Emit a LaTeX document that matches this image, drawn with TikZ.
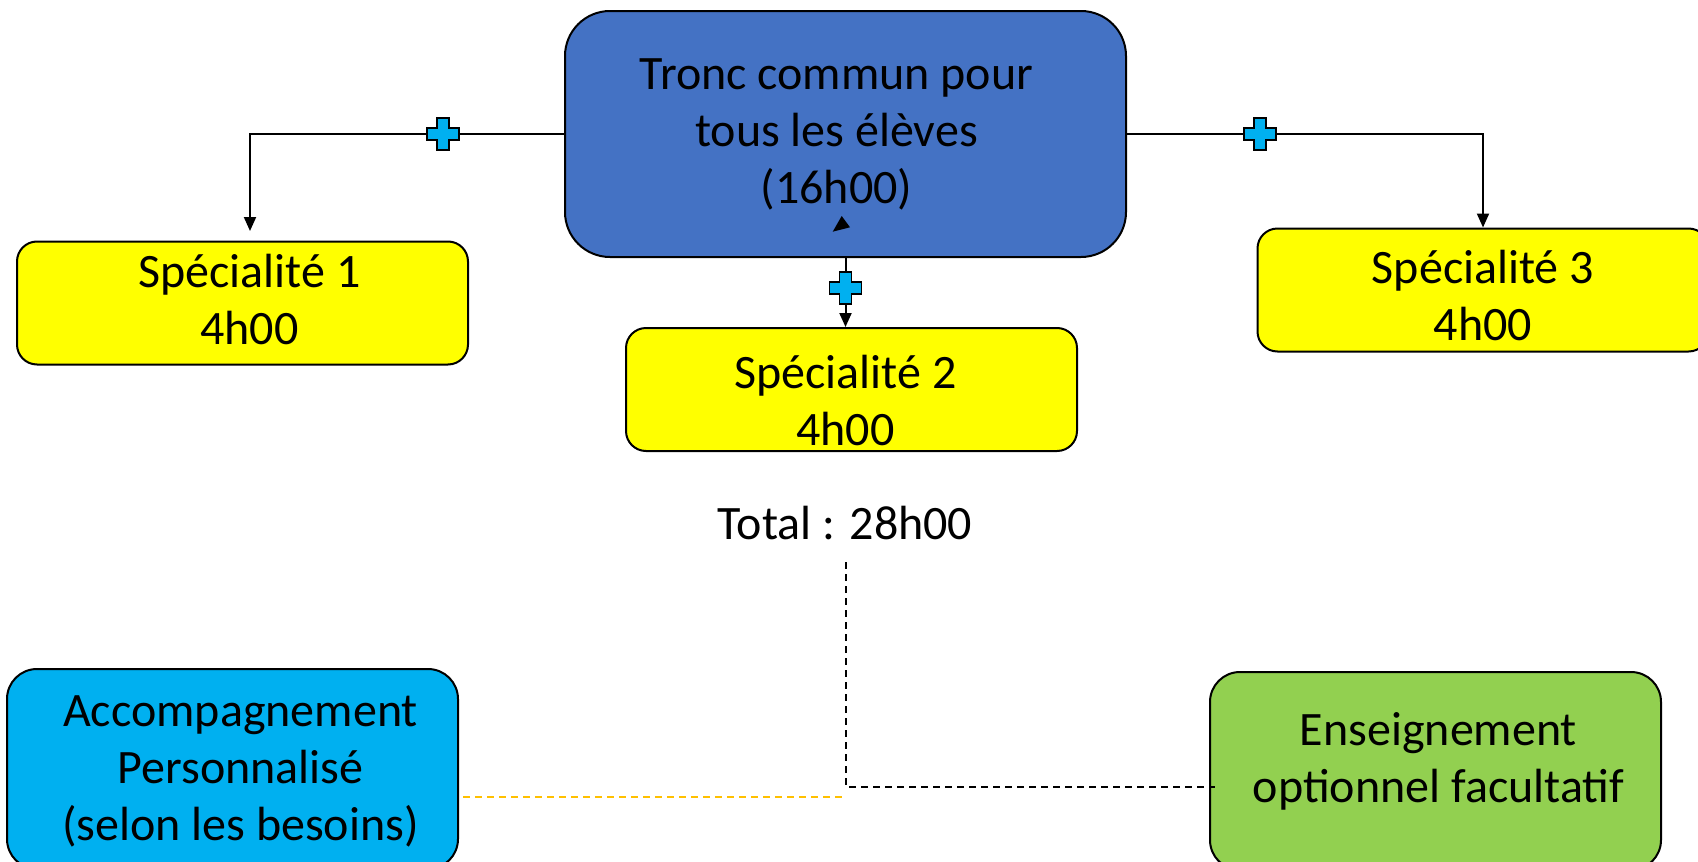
\documentclass[tikz,border=0pt]{standalone}
\usepackage{fontspec}
\setmainfont{Carlito}
\usetikzlibrary{arrows.meta}
\definecolor{troncblue}{HTML}{4472C4}
\definecolor{specyellow}{HTML}{FFFF00}
\definecolor{accblue}{HTML}{00B0F0}
\definecolor{optgreen}{HTML}{92D050}
\definecolor{dashorange}{HTML}{FFC000}
% #1 = horizontal shift x2, #2 = vertical raise, #3 = lines
\newcommand{\mylines}[3]{\hspace*{#1}\raisebox{#2}[\height][\depth]{\begin{tabular}{@{}c@{}}#3\end{tabular}}}
\tikzset{
  boxbase/.style={draw=black, line width=2pt, align=center, inner sep=0pt,
    font=\fontsize{48}{57}\selectfont},
  troncbox/.style={boxbase, fill=troncblue, rounded corners=45pt, minimum width=561pt, minimum height=246pt},
  specbox/.style={boxbase, fill=specyellow, rounded corners=20pt, minimum width=451pt, minimum height=123pt},
  accbox/.style={boxbase, fill=accblue, rounded corners=30pt, minimum width=451pt, minimum height=200pt},
  optbox/.style={boxbase, fill=optgreen, rounded corners=30pt, minimum width=451pt, minimum height=198pt},
  conn/.style={draw=black, line width=2pt, -{Triangle[length=14pt,width=12pt]}},
  dashconn/.style={draw=black, line width=2pt, dash pattern=on 7pt off 5pt},
  orangeconn/.style={draw=dashorange, line width=2pt, dash pattern=on 7pt off 5pt},
  plusmark/.pic={\filldraw[fill=accblue, draw=black, line width=1.5pt]
    (-6,-16)--(6,-16)--(6,-6)--(16,-6)--(16,6)--(6,6)--(6,16)--(-6,16)--(-6,6)--(-16,6)--(-16,-6)--(-6,-6)--cycle;}
}
\begin{document}
\begin{tikzpicture}[x=1pt,y=-1pt]
\useasboundingbox (0,0) rectangle (1698,862);
\clip (0,0) rectangle (1698,862);
\fill[white] (0,0) rectangle (1698,862);
% nodes
\node[troncbox] (tronc) at (845.5,134) {\mylines{-18pt}{-1pt}{Tronc commun pour\\tous les élèves\\(16h00)}};
\node[specbox] (spe1) at (242.5,303) {\mylines{14pt}{-2pt}{Spécialité 1\\4h00}};
\node[specbox] (spe2) at (851.5,389.5) {\mylines{-12pt}{-16pt}{Spécialité 2\\4h00}};
\node[specbox] (spe3) at (1483,290) {\mylines{0pt}{-11pt}{Spécialité 3\\4h00}};
\node[font=\fontsize{48}{57}\selectfont, inner sep=0pt] (total) at (845,523) {Total : 28h00};
\node[accbox] (acc) at (232.5,769) {\mylines{16pt}{-3pt}{Accompagnement\\Personnalisé\\(selon les besoins)}};
\node[optbox] (opt) at (1435.5,771) {\mylines{6pt}{8pt}{Enseignement\\optionnel facultatif}};
% coordinates
\coordinate (a1) at (250,231);
\coordinate (d1) at (846,562);
\coordinate (d2) at (846,787);
\coordinate (d3) at (1215,787);
\coordinate (o1) at (463,797);
\coordinate (o2) at (846,797);
% connectors
\draw[conn] (tronc.west) -| (a1);
\draw[conn] (tronc.east) -| (spe3.north);
\draw[conn] (tronc.south) -- (tronc.south |- spe2.north);
\draw[dashconn] (d1) -- (d2) -- (d3);
\draw[orangeconn] (o1) -- (o2);
% stray arrowhead
\fill[black] (841.7,216) -- (850,227.3) -- (832.7,231.7) -- cycle;
% plus markers
\pic at (443,134) {plusmark};
\pic at (1260,134) {plusmark};
\pic at (845.5,288) {plusmark};
\end{tikzpicture}
\end{document}
